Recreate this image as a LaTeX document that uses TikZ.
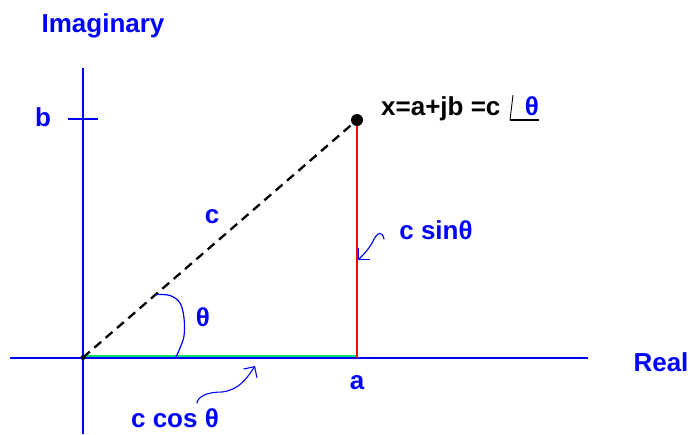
\documentclass[tikz,border=0pt]{standalone}
\usepackage{fontspec}
\setmainfont{Liberation Sans}
\usetikzlibrary{arrows.meta}
\definecolor{pblue}{RGB}{0,0,255}
\definecolor{pgreen}{RGB}{0,224,112}
\definecolor{pred}{RGB}{255,0,0}
\begin{document}
\begin{tikzpicture}[x=1pt,y=-1pt,
  lbl/.style={font=\fontsize{26}{30}\selectfont\bfseries, text=pblue, inner sep=0pt},
  eqlbl/.style={font=\fontsize{26}{30}\selectfont\bfseries, text=black, inner sep=0pt},
  axisline/.style={draw=pblue, line width=1.6pt},
  pointer/.style={draw=pblue, line width=1.1pt, line cap=round, line join=round,
     -{Straight Barb[length=8pt,width=16pt,line width=1.1pt]}},
  vecdash/.style={draw=black, line width=2.3pt, dash pattern=on 9pt off 6pt}
]
\useasboundingbox (0,0) rectangle (692,434);
% coordinates
\coordinate (O) at (83,357.5);
\coordinate (P) at (357,120);
\coordinate (A) at (357,357.5);
\coordinate (ytop) at (83,68);
\coordinate (ybot) at (83,434);
\coordinate (xl) at (10,358);
\coordinate (xr) at (588,358);
\coordinate (tl) at (68,119);
\coordinate (tr) at (98,119);
% axes
\draw[axisline] (ytop) -- (ybot);
\draw[axisline] (xl) -- (xr);
\draw[axisline] (tl) -- (tr);
% green real part
\draw[draw=pgreen, line width=2pt] (83,356) -- (357,356);
% red imaginary part
\draw[draw=pred, line width=1.3pt] (P) -- (A);
% dashed vector
\draw[vecdash] (O) -- (P);
% points
\fill[black] (P) circle (6);
\fill[black] (O) circle (2.5);
% angle arc
\draw[pblue, line width=1.2pt] plot[smooth, tension=0.6] coordinates {(156,294.5) (170,295.5) (180,303) (184,318) (184,336) (180,348) (176,357)};
% labels
\node[lbl] (imag) at (103,26) {Imaginary};
\node[lbl] (b) at (43,117) {b};
\node[lbl] (real) at (661,362) {Real};
\node[lbl] (a) at (357,383) {a};
\node[lbl] (c) at (212,217) {c};
\node[lbl] (th) at (203,317) {θ};
\node[lbl] (csin) at (436,230) {c sinθ};
\node[lbl] (ccos) at (175,418) {c cos θ};
\node[eqlbl, anchor=base west] (eq) at (381,115) {x=a+jb =c};
\coordinate (angtop) at (513,95);
\coordinate (angcorner) at (510,120);
\coordinate (angend) at (539,120);
\draw[black, line width=0.9pt] (angtop) -- (angcorner);
\draw[black, line width=1.4pt] (angcorner) -- (angend);
\node[lbl, anchor=base] (eqth) at (532,115) {θ};
% pointers
\coordinate (sinstart) at (384,239);
\coordinate (sintip) at (358,260);
\draw[pointer] (sinstart) .. controls (382,230) and (377,232) .. (372,243)
   .. controls (368,250) and (364,254) .. (sintip);
\coordinate (cosstart) at (197,403);
\coordinate (costip) at (255,366);
\draw[pointer] (cosstart) .. controls (198,396) and (208,392) .. (222,392)
   .. controls (238,390) and (246,380) .. (costip);
\end{tikzpicture}
\end{document}
